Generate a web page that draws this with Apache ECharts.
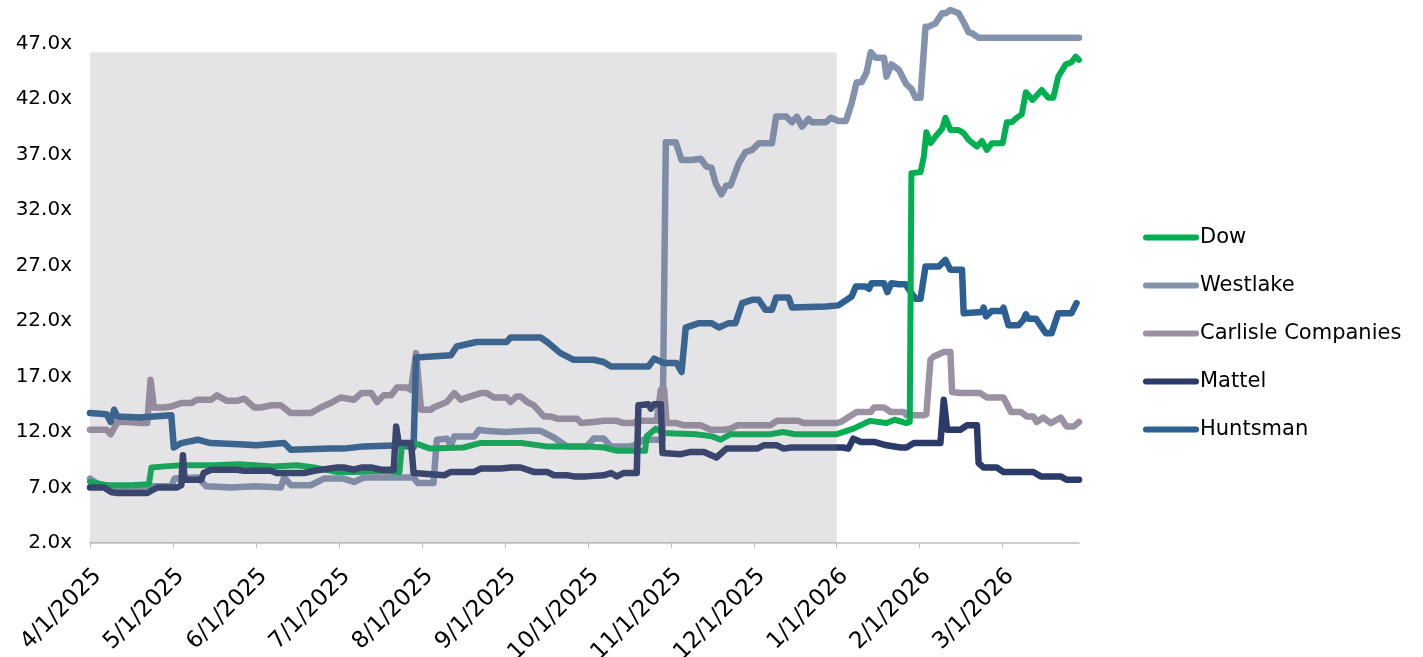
<!DOCTYPE html>
<html>
<head>
<meta charset="utf-8">
<script src="https://cdn.jsdelivr.net/npm/echarts@6/dist/echarts.min.js"></script>
<style>
  html, body { margin: 0; padding: 0; background: #fff; }
  #chart { width: 1423px; height: 657px; }
</style>
</head>
<body>
<div id="chart"></div>
<script>
// x = months since 4/1/2025, y = multiple
var monthLabels = ['4/1/2025', '5/1/2025', '6/1/2025', '7/1/2025', '8/1/2025', '9/1/2025',
  '10/1/2025', '11/1/2025', '12/1/2025', '1/1/2026', '2/1/2026', '3/1/2026'];
var names = ['Dow', 'Westlake', 'Carlisle Companies', 'Mattel', 'Huntsman'];
var colors = {
  'Dow': '#00B050',
  'Westlake': '#8392AD',
  'Carlisle Companies': '#9C90A3',
  'Mattel': '#2B3A68',
  'Huntsman': '#2C5F92'
};
var shadeEnd = 9.0; // 1/1/2026

var dow = [[0,7.5],[0.2,7.2],[0.5,7.2],[0.71,7.3],[0.74,8.8],[0.9,8.9],[1.1,9.0],[1.5,9.0],[1.8,9.1],
  [2.2,8.9],[2.5,9.0],[2.7,8.8],[2.98,8.4],[3.2,8.4],[3.5,8.5],[3.73,8.4],[3.76,10.9],[3.95,10.9],
  [4.1,10.5],[4.5,10.6],[4.7,11.0],[5.2,11.0],[5.5,10.7],[5.99,10.7],[6.2,10.6],[6.35,10.3],[6.69,10.3],
  [6.71,11.6],[6.82,12.3],[6.9,11.9],[7.3,11.8],[7.5,11.6],[7.6,11.3],[7.72,11.8],[8.2,11.8],[8.35,12.0],
  [8.5,11.8],[9.0,11.8],[9.2,12.3],[9.4,13.0],[9.6,12.8],[9.7,13.1],[9.84,12.8],[9.88,12.9],[9.9,35.3],
  [10.01,35.4],[10.05,36.8],[10.08,39.0],[10.13,38.0],[10.2,38.7],[10.27,39.3],[10.31,40.3],[10.37,39.2],
  [10.47,39.2],[10.53,38.9],[10.59,38.3],[10.69,37.7],[10.75,38.2],[10.81,37.4],[10.87,38.0],[11.0,38.0],
  [11.05,39.9],[11.11,39.9],[11.17,40.3],[11.23,40.6],[11.28,42.6],[11.36,41.9],[11.47,42.8],[11.55,42.1],
  [11.61,42.1],[11.67,44.0],[11.76,45.1],[11.83,45.3],[11.88,45.8],[11.92,45.5]];

var westlake = [[0,7.8],[0.1,7.3],[0.25,7.1],[0.5,7.0],[0.7,7.1],[0.98,7.1],[1.02,7.8],[1.3,7.9],[1.4,7.1],
  [1.7,7.0],[2.0,7.1],[2.3,7.0],[2.34,7.9],[2.42,7.2],[2.66,7.2],[2.82,7.8],[3.06,7.8],[3.18,7.5],[3.3,7.9],
  [3.7,7.9],[3.9,7.9],[3.95,7.4],[4.14,7.4],[4.18,11.3],[4.3,11.4],[4.35,10.8],[4.39,11.6],[4.63,11.6],
  [4.69,12.2],[4.78,12.1],[5.0,12.0],[5.3,12.1],[5.43,12.1],[5.59,11.5],[5.67,11.1],[5.75,10.7],[5.99,10.7],
  [6.07,11.4],[6.19,11.4],[6.28,10.7],[6.52,10.7],[6.59,10.9],[6.67,11.3],[6.90,11.3],[6.94,38.1],[7.06,38.1],
  [7.13,36.5],[7.25,36.5],[7.36,36.6],[7.43,35.9],[7.49,35.8],[7.54,34.4],[7.61,33.4],[7.67,34.2],[7.72,34.2],
  [7.82,36.2],[7.90,37.2],[7.98,37.4],[8.06,38.0],[8.22,38.0],[8.27,40.4],[8.39,40.4],[8.46,39.9],[8.52,40.4],
  [8.58,39.5],[8.66,40.2],[8.70,39.9],[8.87,39.9],[8.93,40.3],[9.02,40.0],[9.11,40.0],[9.18,41.6],[9.24,43.5],
  [9.30,43.5],[9.36,44.4],[9.41,46.2],[9.47,45.7],[9.57,45.7],[9.60,44.0],[9.66,45.1],[9.75,44.6],[9.84,43.3],
  [9.90,42.9],[9.95,42.1],[10.01,42.1],[10.07,48.5],[10.11,48.5],[10.19,48.8],[10.27,49.7],[10.31,49.7],
  [10.37,50.0],[10.47,49.7],[10.53,48.9],[10.59,48.0],[10.63,47.9],[10.71,47.5],[11.92,47.5]];

var carlisle = [[0,12.2],[0.2,12.2],[0.25,11.8],[0.33,12.9],[0.45,12.9],[0.6,12.8],[0.69,12.8],[0.73,16.7],
  [0.77,14.2],[0.89,14.2],[0.98,14.3],[1.10,14.6],[1.22,14.6],[1.29,14.9],[1.46,14.9],[1.53,15.3],[1.65,14.8],
  [1.77,14.8],[1.86,15.0],[1.98,14.2],[2.06,14.2],[2.18,14.4],[2.30,14.4],[2.42,13.7],[2.66,13.7],[2.78,14.2],
  [2.90,14.6],[3.02,15.1],[3.18,14.9],[3.27,15.5],[3.39,15.5],[3.46,14.7],[3.54,15.3],[3.63,15.3],[3.70,16.0],
  [3.82,16.0],[3.87,15.8],[3.93,19.1],[3.99,14.0],[4.11,14.0],[4.14,14.2],[4.30,14.7],[4.39,15.5],[4.47,14.9],
  [4.54,15.1],[4.71,15.5],[4.78,15.5],[4.87,15.1],[5.02,15.1],[5.07,14.7],[5.14,15.2],[5.19,15.2],[5.27,14.7],
  [5.35,14.4],[5.47,13.4],[5.55,13.4],[5.63,13.2],[5.87,13.2],[5.92,12.8],[6.07,12.9],[6.19,13.0],[6.35,13.0],
  [6.43,12.8],[6.55,12.8],[6.59,13.0],[6.83,13.0],[6.88,15.8],[6.92,15.8],[6.95,12.8],[7.07,12.8],[7.16,12.6],
  [7.36,12.6],[7.48,12.2],[7.64,12.2],[7.72,12.3],[7.80,12.6],[8.20,12.6],[8.28,13.0],[8.54,13.0],[8.60,12.8],
  [9.00,12.8],[9.05,12.9],[9.24,13.8],[9.41,13.8],[9.45,14.2],[9.57,14.2],[9.65,13.8],[9.81,13.8],[9.84,13.5],
  [10.05,13.5],[10.08,13.6],[10.13,18.5],[10.17,18.8],[10.29,19.2],[10.37,19.2],[10.39,15.6],[10.49,15.5],
  [10.73,15.5],[10.81,15.1],[11.01,15.1],[11.10,13.8],[11.22,13.8],[11.29,13.4],[11.37,13.4],[11.41,12.9],
  [11.49,13.3],[11.58,12.8],[11.70,13.3],[11.77,12.5],[11.86,12.5],[11.92,12.9]];

var mattel = [[0,7.0],[0.17,7.0],[0.25,6.6],[0.33,6.5],[0.69,6.5],[0.81,7.0],[1.05,7.0],[1.10,7.2],[1.12,9.9],
  [1.14,7.7],[1.34,7.7],[1.37,8.3],[1.46,8.6],[1.77,8.6],[1.86,8.5],[2.18,8.5],[2.25,8.3],[2.58,8.3],[2.70,8.5],
  [2.98,8.8],[3.06,8.8],[3.18,8.6],[3.27,8.8],[3.39,8.8],[3.51,8.6],[3.66,8.6],[3.69,12.5],[3.72,11.0],
  [3.87,11.0],[3.90,8.3],[4.27,8.1],[4.35,8.4],[4.63,8.4],[4.71,8.7],[4.95,8.7],[5.07,8.8],[5.19,8.8],
  [5.35,8.4],[5.51,8.4],[5.59,8.1],[5.75,8.1],[5.83,8.0],[5.99,8.0],[6.19,8.1],[6.28,8.3],[6.35,8.0],
  [6.43,8.3],[6.59,8.3],[6.61,14.4],[6.73,14.5],[6.76,14.1],[6.80,14.5],[6.88,14.5],[6.90,10.1],[7.12,10.0],
  [7.24,10.2],[7.40,10.2],[7.55,9.7],[7.67,10.5],[8.04,10.5],[8.12,10.8],[8.28,10.8],[8.36,10.5],[8.45,10.6],
  [9.08,10.6],[9.14,10.5],[9.20,11.4],[9.29,11.1],[9.45,11.1],[9.60,10.8],[9.77,10.6],[9.84,10.6],[9.93,11.0],
  [10.25,11.0],[10.29,14.9],[10.33,12.2],[10.49,12.2],[10.57,12.6],[10.69,12.6],[10.71,9.2],[10.77,8.8],
  [10.93,8.8],[11.01,8.4],[11.37,8.4],[11.46,8.0],[11.70,8.0],[11.77,7.7],[11.92,7.7]];

var huntsman = [[0,13.7],[0.2,13.6],[0.25,12.9],[0.29,14.0],[0.33,13.4],[0.6,13.3],[0.98,13.5],[1.01,10.6],
  [1.1,11.0],[1.3,11.3],[1.45,11.0],[1.8,10.9],[2.0,10.8],[2.34,11.0],[2.42,10.4],[2.9,10.5],[3.06,10.5],
  [3.3,10.7],[3.75,10.8],[3.90,10.6],[3.93,18.7],[4.35,18.9],[4.42,19.7],[4.66,20.1],[5.02,20.1],[5.07,20.5],
  [5.43,20.5],[5.51,20.1],[5.67,19.1],[5.83,18.5],[6.07,18.5],[6.19,18.3],[6.28,17.9],[6.73,17.9],[6.80,18.6],
  [6.92,18.2],[7.07,18.2],[7.13,17.4],[7.18,21.4],[7.34,21.8],[7.49,21.8],[7.58,21.4],[7.70,21.8],[7.78,21.8],
  [7.86,23.6],[7.98,23.9],[8.06,23.9],[8.14,23.0],[8.22,23.0],[8.27,24.1],[8.42,24.1],[8.46,23.2],[8.87,23.3],
  [9.02,23.4],[9.18,24.2],[9.23,25.1],[9.35,25.1],[9.39,24.9],[9.42,25.4],[9.57,25.4],[9.61,24.6],[9.66,25.4],
  [9.75,25.3],[9.83,25.3],[9.90,24.5],[9.95,24.0],[10.01,24.0],[10.07,26.9],[10.23,26.9],[10.31,27.5],
  [10.37,26.6],[10.51,26.6],[10.53,22.7],[10.75,22.8],[10.77,23.2],[10.80,22.4],[10.87,22.9],[10.99,22.9],
  [11.01,23.2],[11.07,21.6],[11.19,21.6],[11.25,22.1],[11.28,22.6],[11.31,22.2],[11.40,22.2],[11.52,20.9],
  [11.59,20.9],[11.67,22.7],[11.83,22.7],[11.89,23.6]];

var seriesData = {
  'Dow': dow,
  'Westlake': westlake,
  'Carlisle Companies': carlisle,
  'Mattel': mattel,
  'Huntsman': huntsman
};
// drawing order (bottom to top)
var drawOrder = ['Westlake', 'Carlisle Companies', 'Huntsman', 'Dow', 'Mattel'];

var chart = echarts.init(document.getElementById('chart'));
var font = 'DejaVu Sans';

var series = drawOrder.map(function (n) {
  return {
    name: n,
    type: 'line',
    data: seriesData[n],
    showSymbol: false,
    symbol: 'none',
    color: colors[n],
    lineStyle: { width: n === 'Dow' ? 6 : 6.5, color: colors[n], cap: 'round', join: 'round' },
    animation: false
  };
});
// gray shaded overlay for the 2025 period
series.push({
  name: 'shade',
  type: 'line',
  data: [],
  z: 10,
  markArea: {
    silent: true,
    z: 10,
    itemStyle: { color: 'rgba(120,120,135,0.2)' },
    data: [[{ xAxis: 0, yAxis: 2 }, { xAxis: shadeEnd, yAxis: 46.2 }]]
  }
});

var option = {
  backgroundColor: '#fff',
  animation: false,
  grid: { left: 90, right: 344, top: 10, bottom: 114, outerBoundsMode: 'none' },
  legend: {
    data: names,
    orient: 'vertical',
    left: 1138,
    top: 222,
    itemWidth: 56,
    itemHeight: 6,
    itemGap: 27,
    icon: 'path://M3,0 L53,0 A3,3 0 0 1 53,6 L3,6 A3,3 0 0 1 3,0 Z',
    textStyle: { fontFamily: font, fontSize: 21, color: '#000', padding: [0, 0, 0, -4] }
  },
  xAxis: {
    type: 'value',
    min: 0,
    max: 11.92,
    interval: 1,
    splitLine: { show: false },
    axisLine: { show: true, lineStyle: { color: '#BFBFBF', width: 1.5 } },
    axisTick: { show: true, length: 5, lineStyle: { color: '#BFBFBF' } },
    axisLabel: {
      rotate: 45,
      margin: 22,
      verticalAlign: 'top',
      lineHeight: 22,
      showMaxLabel: false,
      hideOverlap: false,
      fontFamily: font,
      fontSize: 23,
      color: '#000',
      formatter: function (v) { return monthLabels[Math.round(v)] || ''; }
    }
  },
  yAxis: {
    type: 'value',
    min: 2,
    max: 50,
    interval: 5,
    splitLine: { show: false },
    axisLine: { show: false },
    axisTick: { show: false },
    axisLabel: {
      showMaxLabel: false,
      margin: 18,
      fontFamily: font,
      fontSize: 20,
      color: '#000',
      formatter: function (v) { return v.toFixed(1) + 'x'; }
    }
  },
  series: series
};
chart.setOption(option);
</script>
</body>
</html>
